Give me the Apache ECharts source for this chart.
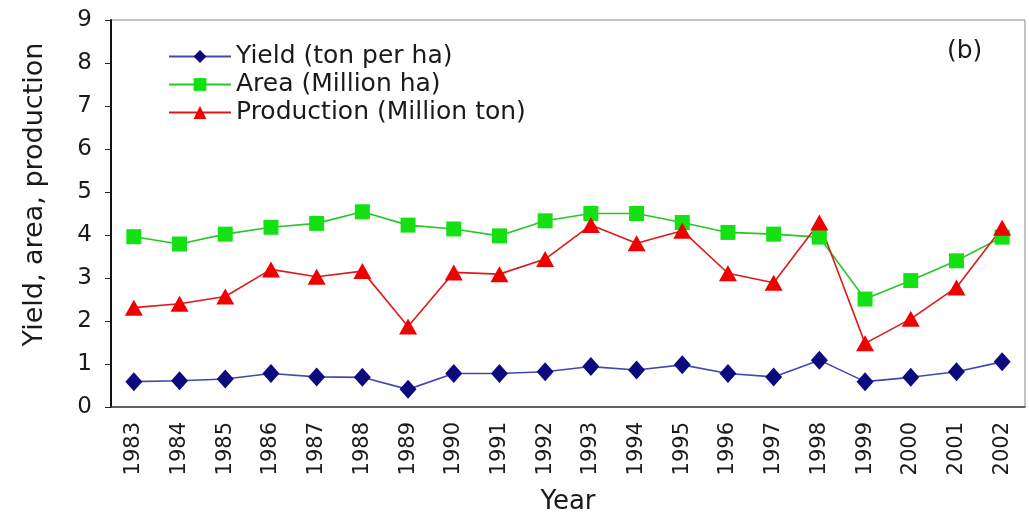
<!DOCTYPE html>
<html>
<head>
<meta charset="utf-8">
<script src="https://cdn.jsdelivr.net/npm/echarts@6/dist/echarts.min.js"></script>
<style>
html,body{margin:0;padding:0;background:#fff;}
#chart{width:1029px;height:512px;}
</style>
</head>
<body>
<div id="chart"></div>
<script>
const years = ['1983','1984','1985','1986','1987','1988','1989','1990','1991','1992',
               '1993','1994','1995','1996','1997','1998','1999','2000','2001','2002'];
const yieldTonPerHa = [0.59,0.61,0.65,0.78,0.70,0.69,0.41,0.78,0.78,0.82,
                       0.94,0.86,0.98,0.78,0.70,1.09,0.59,0.69,0.82,1.05];
const areaMillionHa = [3.96,3.79,4.02,4.18,4.27,4.54,4.23,4.14,3.98,4.33,
                       4.50,4.50,4.29,4.06,4.02,3.95,2.51,2.94,3.40,3.95];
const productionMillionTon = [2.31,2.40,2.57,3.20,3.03,3.16,1.87,3.13,3.09,3.44,
                              4.23,3.81,4.10,3.11,2.89,4.29,1.48,2.05,2.78,4.17];

const font = '"DejaVu Sans", Verdana, sans-serif';
const chart = echarts.init(document.getElementById('chart'));

chart.setOption({
  backgroundColor: '#fff',
  animation: false,
  textStyle: { fontFamily: font },
  grid: {
    left: 111, right: 4, top: 20, bottom: 105,
    outerBoundsMode: 'none', containLabel: false,
    show: true, borderColor: '#888', borderWidth: 1
  },
  legend: {
    orient: 'vertical',
    left: 163, top: 39,
    itemGap: 3,
    itemWidth: 62, itemHeight: 16,
    textStyle: { fontFamily: font, fontSize: 25, lineHeight: 25, color: '#1a1a1a' },
    data: ['Yield (ton per ha)', 'Area (Million ha)', 'Production (Million ton)']
  },
  graphic: [{
    type: 'text', left: 947, top: 39,
    style: { text: '(b)', font: '25px ' + font, fill: '#1a1a1a' }
  }],
  xAxis: {
    type: 'category',
    data: years,
    boundaryGap: true,
    name: 'Year',
    nameLocation: 'middle',
    nameGap: 82,
    nameTextStyle: { fontSize: 26, color: '#1a1a1a', fontFamily: font },
    axisLine: { lineStyle: { color: '#444', width: 1.5 } },
    axisTick: { length: 7, lineStyle: { color: '#333' } },
    axisLabel: { rotate: 90, fontSize: 21, color: '#1a1a1a', margin: 15, interval: 0 }
  },
  yAxis: {
    type: 'value',
    min: 0, max: 9, interval: 1,
    name: 'Yield, area, production',
    nameLocation: 'middle',
    nameGap: 63,
    nameTextStyle: { fontSize: 27, color: '#1a1a1a', fontFamily: font, padding: [0, 0, 0, 38] },
    axisLine: { show: true, lineStyle: { color: '#111', width: 2 } },
    axisTick: { show: true, length: 6, lineStyle: { color: '#222' } },
    axisLabel: { fontSize: 23, color: '#1a1a1a', margin: 19 },
    splitLine: { show: false }
  },
  series: [
    {
      name: 'Yield (ton per ha)', type: 'line', data: yieldTonPerHa,
      symbol: 'diamond', symbolSize: [17, 19],
      itemStyle: { color: '#0b0b7d' },
      lineStyle: { color: '#4646b0', width: 1.6 }
    },
    {
      name: 'Area (Million ha)', type: 'line', data: areaMillionHa,
      symbol: 'rect', symbolSize: 15,
      itemStyle: { color: '#14e014' },
      lineStyle: { color: '#24c824', width: 1.6 }
    },
    {
      name: 'Production (Million ton)', type: 'line', data: productionMillionTon,
      symbol: 'triangle', symbolSize: [18, 16],
      itemStyle: { color: '#f00000' },
      lineStyle: { color: '#e01818', width: 1.6 }
    }
  ]
});
</script>
</body>
</html>
